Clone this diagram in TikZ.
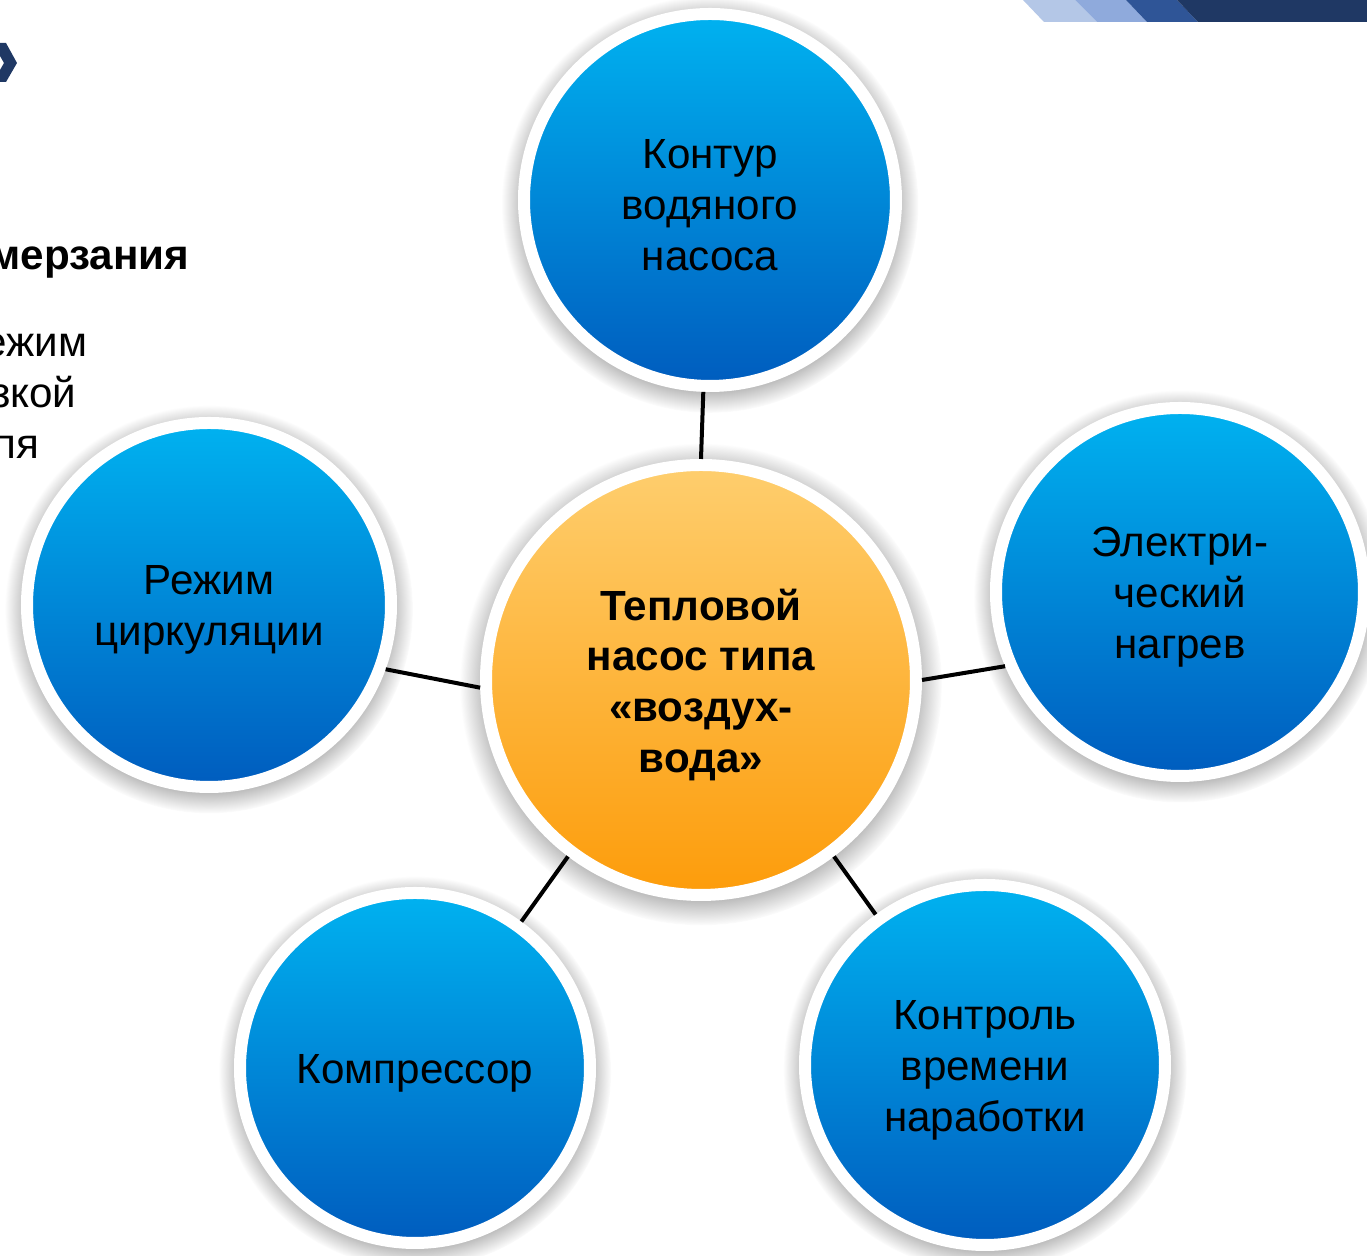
\documentclass[tikz,border=0pt]{standalone}
\usepackage{fontspec}
\setmainfont{Liberation Sans}
\usetikzlibrary{shadows,fadings}

\definecolor{skyblue}{RGB}{0,178,240}
\definecolor{deepblue}{RGB}{0,92,190}
\definecolor{paleorange}{RGB}{254,206,110}
\definecolor{deeporange}{RGB}{253,156,10}
\definecolor{navy}{RGB}{31,56,100}
\definecolor{stripeA}{RGB}{180,199,231}
\definecolor{stripeB}{RGB}{143,170,220}
\definecolor{stripeC}{RGB}{47,85,151}

\tikzset{
  bubble/.style={circle, draw=white, line width=0.12cm, inner sep=0pt,
    top color=skyblue, bottom color=deepblue,
    circular drop shadow={shadow scale=1.12, shadow xshift=0pt,
      shadow yshift=-0.04cm, opacity=0.75}},
  hub/.style={bubble, top color=paleorange, bottom color=deeporange},
  caption/.style={align=center, inner sep=0pt, yshift=-0.05cm,
    font=\fontsize{12}{14.5}\selectfont},
  hubcaption/.style={caption, font=\fontsize{12}{14.5}\selectfont\bfseries},
  link/.style={black, line width=0.04cm},
  side/.style={anchor=base east, inner sep=0pt, font=\fontsize{12}{14.5}\selectfont}
}

\begin{document}
\begin{tikzpicture}

\useasboundingbox (0,0) rectangle (13.67,12.56);

%%%%%%%%%%%%%%%%%%%%%%%%%%%%%%%
\fill[stripeA] (10.23,12.56) -- (10.75,12.56) -- (10.97,12.34) -- (10.44,12.34) -- cycle;
\fill[stripeB] (10.75,12.56) -- (11.26,12.56) -- (11.47,12.34) -- (10.97,12.34) -- cycle;
\fill[stripeC] (11.26,12.56) -- (11.77,12.56) -- (11.98,12.34) -- (11.47,12.34) -- cycle;
\fill[navy] (11.77,12.56) -- (13.67,12.56) -- (13.67,12.34) -- (11.98,12.34) -- cycle;

\fill[navy] (0,12.13) -- (0.06,12.13) -- (0.17,11.93) -- (0.06,11.74) -- (0,11.74)
  -- (0,11.86) -- (0.04,11.93) -- (0,12.00) -- cycle;

%%%%%%%%%%%%%%%%%%%%%%%%%%%%%%%
\node[side] (t1) at (1.90,9.86) {\bfseries мерзания};
\node[side] (t2) at (0.88,8.99) {ежим};
\node[side] (t3) at (0.77,8.48) {зкой};
\node[side] (t4) at (0.40,7.97) {пя};

%%%%%%%%%%%%%%%%%%%%%%%%%%%%%%%
\node[hub, minimum size=4.30cm] (pump) at (7.01,5.76) {};

\node[bubble, minimum size=3.72cm] (loop) at (7.10,10.56) {};
\node[bubble, minimum size=3.68cm] (heat) at (11.80,6.64) {};
\node[bubble, minimum size=3.64cm] (circ) at (2.09,6.51) {};
\node[bubble, minimum size=3.50cm] (comp) at (4.15,1.88) {};
\node[bubble, minimum size=3.60cm] (timer) at (9.85,1.91) {};

\node[hubcaption] (pumptext) at (pump) {Тепловой\\насос типа\\«воздух-\\вода»};
\node[caption] (looptext) at (loop) {Контур\\водяного\\насоса};
\node[caption] (heattext) at (heat) {Электри-\\ческий\\нагрев};
\node[caption] (circtext) at (circ) {Режим\\циркуляции};
\node[caption] (comptext) at (comp) {Компрессор};
\node[caption] (timertext) at (timer) {Контроль\\времени\\наработки};

%%%%%%%%%%%%%%%%%%%%%%%%%%%%%%%
\draw[link] (pump.90) -- (loop.268);
\draw[link] (pump.0) -- (heat.203);
\draw[link] (pump.182) -- (circ.-20);
\draw[link] (pump.233) -- (comp.54);
\draw[link] (pump.-53) -- (timer.126);

\end{tikzpicture}
\end{document}
